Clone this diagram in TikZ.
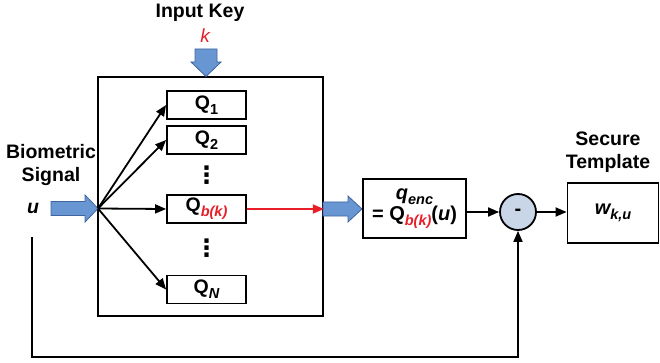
\documentclass[tikz,border=0pt]{standalone}
\usepackage{fontspec}
\setmainfont{Liberation Sans}
\newfontfamily\dejavu{DejaVu Sans}
\usetikzlibrary{arrows.meta}
\definecolor{blk}{RGB}{104,150,210}
\definecolor{blkedge}{RGB}{62,100,158}
\definecolor{sumfill}{RGB}{200,214,232}
\definecolor{keyred}{RGB}{232,30,40}
\newcommand\lowsub[1]{\raisebox{-0.5ex}{\fontsize{14.5}{14.5}\selectfont #1}}
\begin{document}
\begin{tikzpicture}[x=1pt,y=-1pt,
  box/.style={draw, line width=1.8pt, inner sep=0pt},
  qbox/.style={box, minimum width=79pt, minimum height=28pt, font=\bfseries\fontsize{19.5}{19.5}\selectfont},
  lbl/.style={font=\bfseries\fontsize{19.5}{23}\selectfont, align=center},
  conn/.style={line width=1.8pt, -{Triangle[length=11pt,width=9pt]}},
  blockarrow/.style={fill=blk, draw=blkedge, line width=0.8pt},
  vdotsnode/.style={font=\dejavu\bfseries\fontsize{24}{24}\selectfont, inner sep=0pt}]
\useasboundingbox (0,0) rectangle (660,363);

% labels
\node[lbl] (inkey) at (200,13) {Input Key};
\node[font=\itshape\fontsize{19}{19}\selectfont, text=keyred] (k) at (205,36) {k};
\node[lbl] (bio) at (51,165) {Biometric\\Signal};
\node[font=\bfseries\itshape\fontsize{19.5}{19.5}\selectfont] (u) at (33,208) {u};
\node[lbl] (sec) at (608,152) {Secure\\Template};

% encoder box
\node[box, minimum width=225pt, minimum height=239pt] (enc) at (210.5,196.5) {};

% quantizers
\node[qbox] (q1) at (206.5,105) {Q\lowsub{1}};
\node[qbox] (q2) at (206.5,140) {Q\lowsub{2}};
\node[vdotsnode] (d1) at (206.5,175) {⋮};
\node[qbox] (qb) at (206.5,209) {Q\lowsub{\textcolor{keyred}{\itshape b(k)}}};
\node[vdotsnode] (d2) at (206.5,248) {⋮};
\node[qbox] (qn) at (206.5,289.5) {Q\lowsub{\itshape N}};

% block arrows
\fill[blockarrow] (195,49) -- (217,49) -- (217,62) -- (221,62) -- (206,76.5) -- (191,62) -- (195,62) -- cycle;
\fill[blockarrow] (51,201.5) -- (85,201.5) -- (85,195) -- (98,208.5) -- (85,222) -- (85,215.5) -- (51,215.5) -- cycle;
\fill[blockarrow] (323,202) -- (348,202) -- (348,196) -- (362,209) -- (348,222) -- (348,216) -- (323,216) -- cycle;

% fan
\coordinate (fan) at (98,208.5);
\draw[conn] (fan) -- (q1.west);
\draw[conn] (fan) -- (q2.west);
\draw[conn] (fan) -- (qb.west);
\draw[conn] (fan) -- (qn.west);

% selected output
\draw[line width=1.5pt, draw=keyred, -{Triangle[length=11pt,width=9pt]}] (qb.east) -- (enc.east |- qb.east);

% right part
\node[box, minimum width=103pt, minimum height=59pt, align=center,
      font=\bfseries\fontsize{20}{21}\selectfont] (qenc) at (414.5,208.5)
      {\itshape q\lowsub{enc}\\= Q\lowsub{\textcolor{keyred}{\itshape b(k)}}(\textit{u})};
\node[circle, draw, line width=1.8pt, fill=sumfill, minimum size=36pt, inner sep=0pt,
      font=\bfseries\fontsize{20}{20}\selectfont] (sum) at (518,212) {-};
\node[box, minimum width=91pt, minimum height=60pt,
      font=\bfseries\itshape\fontsize{20}{20}\selectfont] (tmpl) at (613,213) {w\lowsub{k,u}};

\draw[conn] (qenc.east |- sum.west) -- (sum.west);
\draw[conn] (sum.east) -- (tmpl.west |- sum.east);

% feedback
\coordinate (fb) at (32,237);
\draw[conn] (fb) -- (32,357) -| (sum.south);
\end{tikzpicture}
\end{document}
